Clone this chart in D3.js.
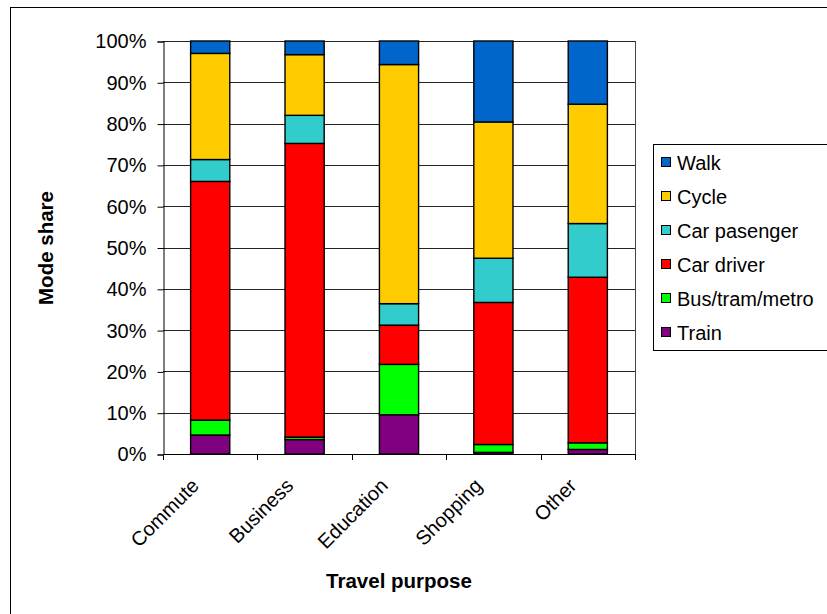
<!DOCTYPE html>
<html>
<head>
<meta charset="utf-8">
<script src="https://cdn.jsdelivr.net/npm/d3@7"></script>
<style>
  html, body { margin: 0; padding: 0; background: #fff; }
  svg { display: block; font-family: "Liberation Sans", Arial, sans-serif; }
</style>
</head>
<body>
<svg id="chart" width="827" height="614"></svg>
<script>
const categories = ["Commute", "Business", "Education", "Shopping", "Other"];
const seriesNames = ["Train", "Bus/tram/metro", "Car driver", "Car pasenger", "Cycle", "Walk"];
const train        = [4.6, 3.5, 9.5, 0.4, 1.1];
const busTramMetro = [3.6, 0.6, 12.2, 1.9, 1.6];
const carDriver    = [57.8, 71.1, 9.5, 34.4, 40.1];
const carPassenger = [5.3, 6.8, 5.2, 10.7, 13.0];
const cycle        = [25.7, 14.7, 57.9, 33.0, 28.9];
const walk         = [3.0, 3.3, 5.7, 19.6, 15.3];
const seriesColors = ["#800080", "#00FF00", "#FF0000", "#33CCCC", "#FFCC00", "#0066CC"];
const yTicks = [0, 10, 20, 30, 40, 50, 60, 70, 80, 90, 100];

const seriesValues = [train, busTramMetro, carDriver, carPassenger, cycle, walk];
const table = categories.map((c, i) => {
  const row = { category: c };
  seriesNames.forEach((s, j) => row[s] = seriesValues[j][i]);
  return row;
});

const svg = d3.select("#chart");
const pLeft = 163, pRight = 635, pTop = 41, pBottom = 454;

// outer chart border
svg.append("rect").attr("x", 10.5).attr("y", 7.5).attr("width", 900).attr("height", 700)
  .attr("fill", "none").attr("stroke", "#000").attr("stroke-width", 1);

const x = d3.scaleBand().domain(categories).range([pLeft, pRight]).padding(0);
const y = d3.scaleLinear().domain([0, 100]).range([pBottom, pTop]);

// gridlines
svg.append("g").selectAll("line").data(yTicks.filter(d => d > 0)).join("line")
  .attr("x1", pLeft).attr("x2", pRight)
  .attr("y1", d => Math.round(y(d)) + 0.5).attr("y2", d => Math.round(y(d)) + 0.5)
  .attr("stroke", "#222").attr("stroke-width", 1);
// plot right border
svg.append("line").attr("x1", pRight + 0.5).attr("x2", pRight + 0.5).attr("y1", pTop).attr("y2", pBottom)
  .attr("stroke", "#444");

// stacked bars
const stack = d3.stack().keys(seriesNames)(table);
const barW = x.bandwidth() * 0.415;
svg.append("g").selectAll("g").data(stack).join("g")
  .attr("fill", (d, i) => seriesColors[i])
  .selectAll("rect").data(d => d).join("rect")
  .attr("x", d => x(d.data.category) + (x.bandwidth() - barW) / 2)
  .attr("width", barW)
  .attr("y", d => y(d[1]))
  .attr("height", d => y(d[0]) - y(d[1]))
  .attr("stroke", "#000").attr("stroke-width", 1.4);

// y axis
const yAxis = d3.axisLeft(y).tickValues(yTicks).tickFormat(d => d + "%").tickSize(6).tickPadding(11);
const gy = svg.append("g").attr("transform", `translate(${pLeft + 0.5},0.5)`).call(yAxis);
gy.select(".domain").attr("stroke", "#000");
gy.selectAll(".tick line").attr("stroke", "#000");
gy.selectAll(".tick text").attr("font-size", 20).attr("fill", "#000")
  .attr("font-family", "'Liberation Sans', Arial, sans-serif");

// x axis (category boundaries ticks)
const boundaries = categories.map(c => x(c)).concat([pRight]);
svg.append("line").attr("x1", pLeft).attr("x2", pRight + 1).attr("y1", pBottom + 0.5).attr("y2", pBottom + 0.5)
  .attr("stroke", "#000");
svg.append("g").selectAll("line").data(boundaries).join("line")
  .attr("x1", d => Math.round(d) + 0.5).attr("x2", d => Math.round(d) + 0.5)
  .attr("y1", pBottom).attr("y2", pBottom + 6).attr("stroke", "#000");

// category labels rotated
svg.append("g").selectAll("text").data(categories).join("text")
  .attr("transform", d => `translate(${x(d) + x.bandwidth() / 2 - 10},${pBottom + 33}) rotate(-45)`)
  .attr("text-anchor", "end").attr("font-size", 20).attr("fill", "#000")
  .text(d => d);

// axis titles
svg.append("text").attr("x", (pLeft + pRight) / 2).attr("y", 588)
  .attr("text-anchor", "middle").attr("font-size", 20.5).attr("font-weight", "bold").text("Travel purpose");
svg.append("text").attr("transform", `translate(53,248) rotate(-90)`)
  .attr("text-anchor", "middle").attr("font-size", 20.5).attr("font-weight", "bold").text("Mode share");

// legend
const legendItems = seriesNames.map((s, i) => ({ name: s, color: seriesColors[i] })).reverse();
svg.append("rect").attr("x", 653.5).attr("y", 144.5).attr("width", 300).attr("height", 206)
  .attr("fill", "#fff").attr("stroke", "#000");
const lg = svg.append("g").selectAll("g").data(legendItems).join("g")
  .attr("transform", (d, i) => `translate(0,${163 + i * 34})`);
lg.append("rect").attr("x", 661.5).attr("y", -5.5).attr("width", 9).attr("height", 9)
  .attr("fill", d => d.color).attr("stroke", "#000");
lg.append("text").attr("x", 677).attr("y", 7).attr("font-size", 20).attr("fill", "#000").text(d => d.name);
</script>
</body>
</html>
